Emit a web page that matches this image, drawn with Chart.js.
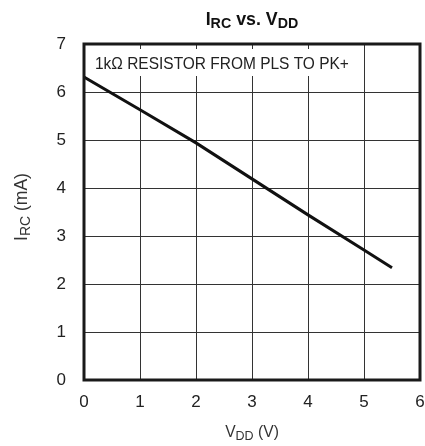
<!DOCTYPE html>
<html><head><meta charset="utf-8">
<script src="https://cdn.jsdelivr.net/npm/chart.js@4/dist/chart.umd.min.js"></script>
<style>html,body{margin:0;padding:0;background:#fff}#wrap{width:425px;height:446px;position:relative}</style>
</head><body><div id="wrap"><canvas id="c" width="425" height="446"></canvas></div>
<script>
const vdd = [0, 1, 2, 3, 4, 5, 5.5];
const irc = [6.31, 5.63, 4.94, 4.19, 3.44, 2.71, 2.34];
const xTickValues = [0, 1, 2, 3, 4, 5, 6];
const yTickValues = [0, 1, 2, 3, 4, 5, 6, 7];
const titleParts = [["I", false], ["RC", true], [" vs. V", false], ["DD", true]];
const xLabelParts = [["V", false], ["DD", true], [" (V)", false]];
const yLabelParts = [["I", false], ["RC", true], [" (mA)", false]];
const noteText = "1kΩ RESISTOR FROM PLS TO PK+";

const FONT = '"Liberation Sans", Arial, sans-serif';

function drawParts(ctx, parts, cx, baseline, size, weight, color, sx, subRatio, subDrop) {
  const subSize = size * subRatio;
  let total = 0;
  const widths = parts.map(([t, sub]) => {
    ctx.font = weight + ' ' + (sub ? subSize : size) + 'px ' + FONT;
    const w = ctx.measureText(t).width * sx;
    total += w;
    return w;
  });
  let x = cx - total / 2;
  ctx.fillStyle = color;
  ctx.textAlign = 'left';
  ctx.textBaseline = 'alphabetic';
  parts.forEach(([t, sub], i) => {
    ctx.save();
    ctx.font = weight + ' ' + (sub ? subSize : size) + 'px ' + FONT;
    ctx.translate(x, baseline + (sub ? subDrop : 0));
    ctx.scale(sx, 1);
    ctx.fillText(t, 0, 0);
    ctx.restore();
    x += widths[i];
  });
}

const decor = {
  id: 'decor',
  beforeDatasetsDraw(chart) {
    const ctx = chart.ctx, a = chart.chartArea;
    ctx.save();
    ctx.fillStyle = '#fff';
    ctx.fillRect(a.left + 2, a.top + 5, 361 - a.left, 76 - a.top - 5);
    ctx.fillStyle = '#222';
    ctx.font = '17px ' + FONT;
    ctx.textAlign = 'left';
    ctx.textBaseline = 'alphabetic';
    ctx.translate(95, 69);
    ctx.scale(0.91, 1);
    ctx.fillText(noteText, 0, 0);
    ctx.restore();
  },
  afterDraw(chart) {
    const ctx = chart.ctx, a = chart.chartArea;
    ctx.save();
    ctx.strokeStyle = '#1a1a1a';
    ctx.lineWidth = 3;
    ctx.strokeRect(a.left, a.top, a.right - a.left, a.bottom - a.top);
    ctx.restore();
    ctx.save();
    drawParts(ctx, titleParts, (a.left + a.right) / 2, 25, 18, 'bold', '#111', 0.99, 0.8, 3);
    drawParts(ctx, xLabelParts, (a.left + a.right) / 2, 437, 17, 'normal', '#333', 0.92, 0.8, 3);
    ctx.restore();
    ctx.save();
    ctx.translate(27, 207);
    ctx.rotate(-Math.PI / 2);
    drawParts(ctx, yLabelParts, 0, 0, 17.5, 'normal', '#333', 1.0, 0.8, 3);
    ctx.restore();
  }
};

new Chart(document.getElementById('c'), {
  type: 'scatter',
  data: {
    datasets: [{
      data: vdd.map((v, i) => ({ x: v, y: irc[i] })),
      showLine: true,
      borderColor: '#111',
      borderWidth: 3,
      pointRadius: 0,
      tension: 0,
      fill: false
    }]
  },
  options: {
    responsive: false,
    animation: false,
    devicePixelRatio: 1,
    layout: { padding: { top: 44, right: 5, left: 0, bottom: 0 } },
    plugins: { legend: { display: false }, tooltip: { enabled: false }, title: { display: false } },
    scales: {
      x: {
        type: 'linear', min: 0, max: 6,
        afterBuildTicks: s => { s.ticks = xTickValues.map(v => ({ value: v })); },
        afterFit: s => { s.height = 66; s.paddingLeft = 0; s.paddingRight = 0; },
        grid: { color: '#333', lineWidth: 1, drawTicks: false },
        border: { display: false },
        ticks: { color: '#222', font: { family: FONT, size: 17 }, padding: 12, maxRotation: 0 }
      },
      y: {
        type: 'linear', min: 0, max: 7,
        afterBuildTicks: s => { s.ticks = yTickValues.map(v => ({ value: v })); },
        afterFit: s => { s.width = 84; s.paddingTop = 0; s.paddingBottom = 0; },
        grid: { color: '#333', lineWidth: 1, drawTicks: false },
        border: { display: false },
        ticks: { color: '#222', font: { family: FONT, size: 17 }, padding: 18 }
      }
    }
  },
  plugins: [decor]
});
</script>
</body></html>
